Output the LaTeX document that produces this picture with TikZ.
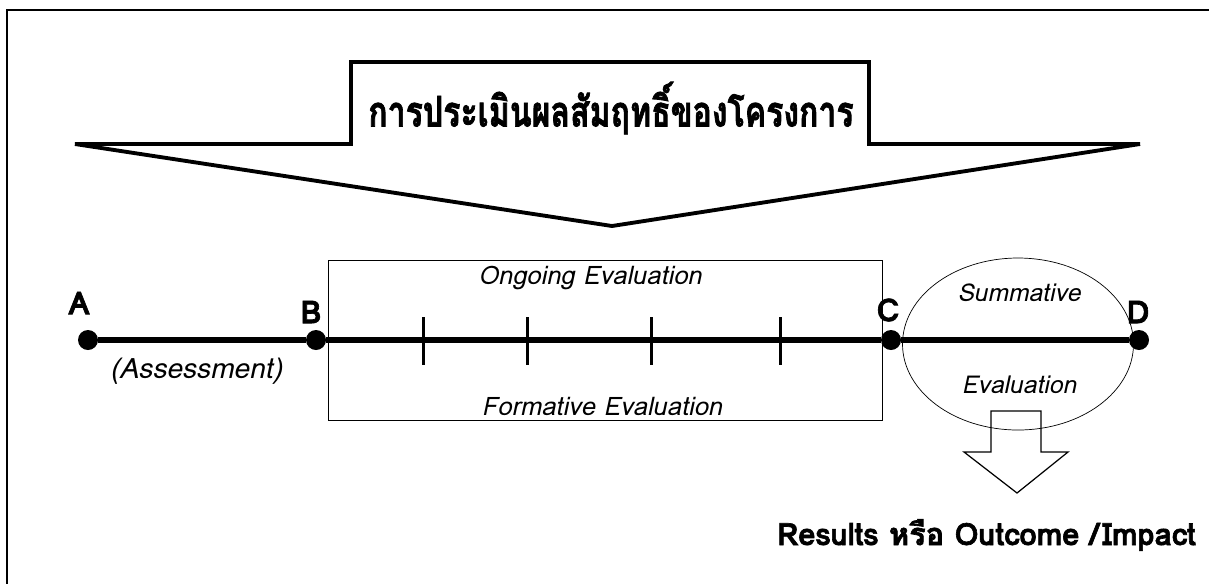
\documentclass[tikz,border=0pt]{standalone}
\usepackage{fontspec}
\setmainfont{Loma}[Extension=.otf, UprightFont=*, BoldFont=*-Bold, ItalicFont=*-Oblique, BoldItalicFont=*-BoldOblique]
\newfontfamily\heavyfont[Script=Thai, Extension=.otf, UprightFont=*-Bold, FakeBold=2]{Loma}
\usetikzlibrary{shapes.geometric}

\begin{document}
\begin{tikzpicture}[x=0.02cm, y=-0.02cm,
  every node/.style={inner sep=0pt},
  dot/.style={circle, fill=black, minimum size=20*0.02cm},
  tick/.style={rectangle, fill=black, minimum width=3*0.02cm, minimum height=48*0.02cm},
  letter/.style={font=\heavyfont\fontsize{18}{18}\selectfont},
  lbl/.style={font=\fontsize{14.5}{14.5}\selectfont\itshape}]

\useasboundingbox (0,0) rectangle (1209,583);
\draw[line width=1.2pt] (7,10) rectangle (1230,600); % cornice

% freccia grande
\draw[line width=2.2pt, line join=miter] (351,144) -- (351,62) -- (869,62) -- (869,144) -- (1140,144) -- (612,226) -- (75,144) -- cycle;
\node[rectangle, draw=none] (title) at (611,108) {\scalebox{0.76}[1]{\heavyfont\fontsize{24}{24}\selectfont การประเมินผลสัมฤทธิ์ของโครงการ}};

% riquadro e ellisse
\node[rectangle, draw, minimum width=554*0.02cm, minimum height=160*0.02cm] (box) at (605,340) {};
\node[ellipse, draw, minimum width=231*0.02cm, minimum height=172*0.02cm] (ell) at (1018,344) {};

\node[lbl] (ongoing) at (590,278) {Ongoing Evaluation};
\node[lbl] (formative) at (602,406) {Formative Evaluation};
\node[lbl, font=\fontsize{14}{14}\selectfont\itshape] (summ) at (1019,293) {Summative};
\node[lbl, font=\fontsize{14}{14}\selectfont\itshape] (evalu) at (1019,385) {Evaluation};
\node[lbl, font=\fontsize{16}{16}\selectfont\itshape] (assess) at (196,371) {(Assessment)};

% linea del tempo
\node[dot] (a) at (88,340) {};
\node[dot] (b) at (316,340) {};
\node[dot] (c) at (891,340) {};
\node[dot] (d) at (1139,340) {};
\draw[line width=3.4pt] (a) -- (b) -- (c) -- (d);

\node[tick] (t1) at (423,341) {};
\node[tick] (t2) at (527,341) {};
\node[tick] (t3) at (651,341) {};
\node[tick] (t4) at (780,341) {};

\node[letter] (la) at (79,303) {A};
\node[letter] (lb) at (311,312) {B};
\node[letter] (lc) at (888,310) {C};
\node[letter] (ld) at (1138,312) {D};

% freccia piccola
\draw[line width=0.7pt] (991,411) -- (1041,411) -- (1041,452) -- (1068,452) -- (1017,493) -- (964,452) -- (991,452) -- cycle;
\node[anchor=east, font=\heavyfont\fontsize{17.5}{17.5}\selectfont] (res) at (1196,535) {Results หรือ Outcome /\kern2pt Impact};

\end{tikzpicture}
\end{document}
